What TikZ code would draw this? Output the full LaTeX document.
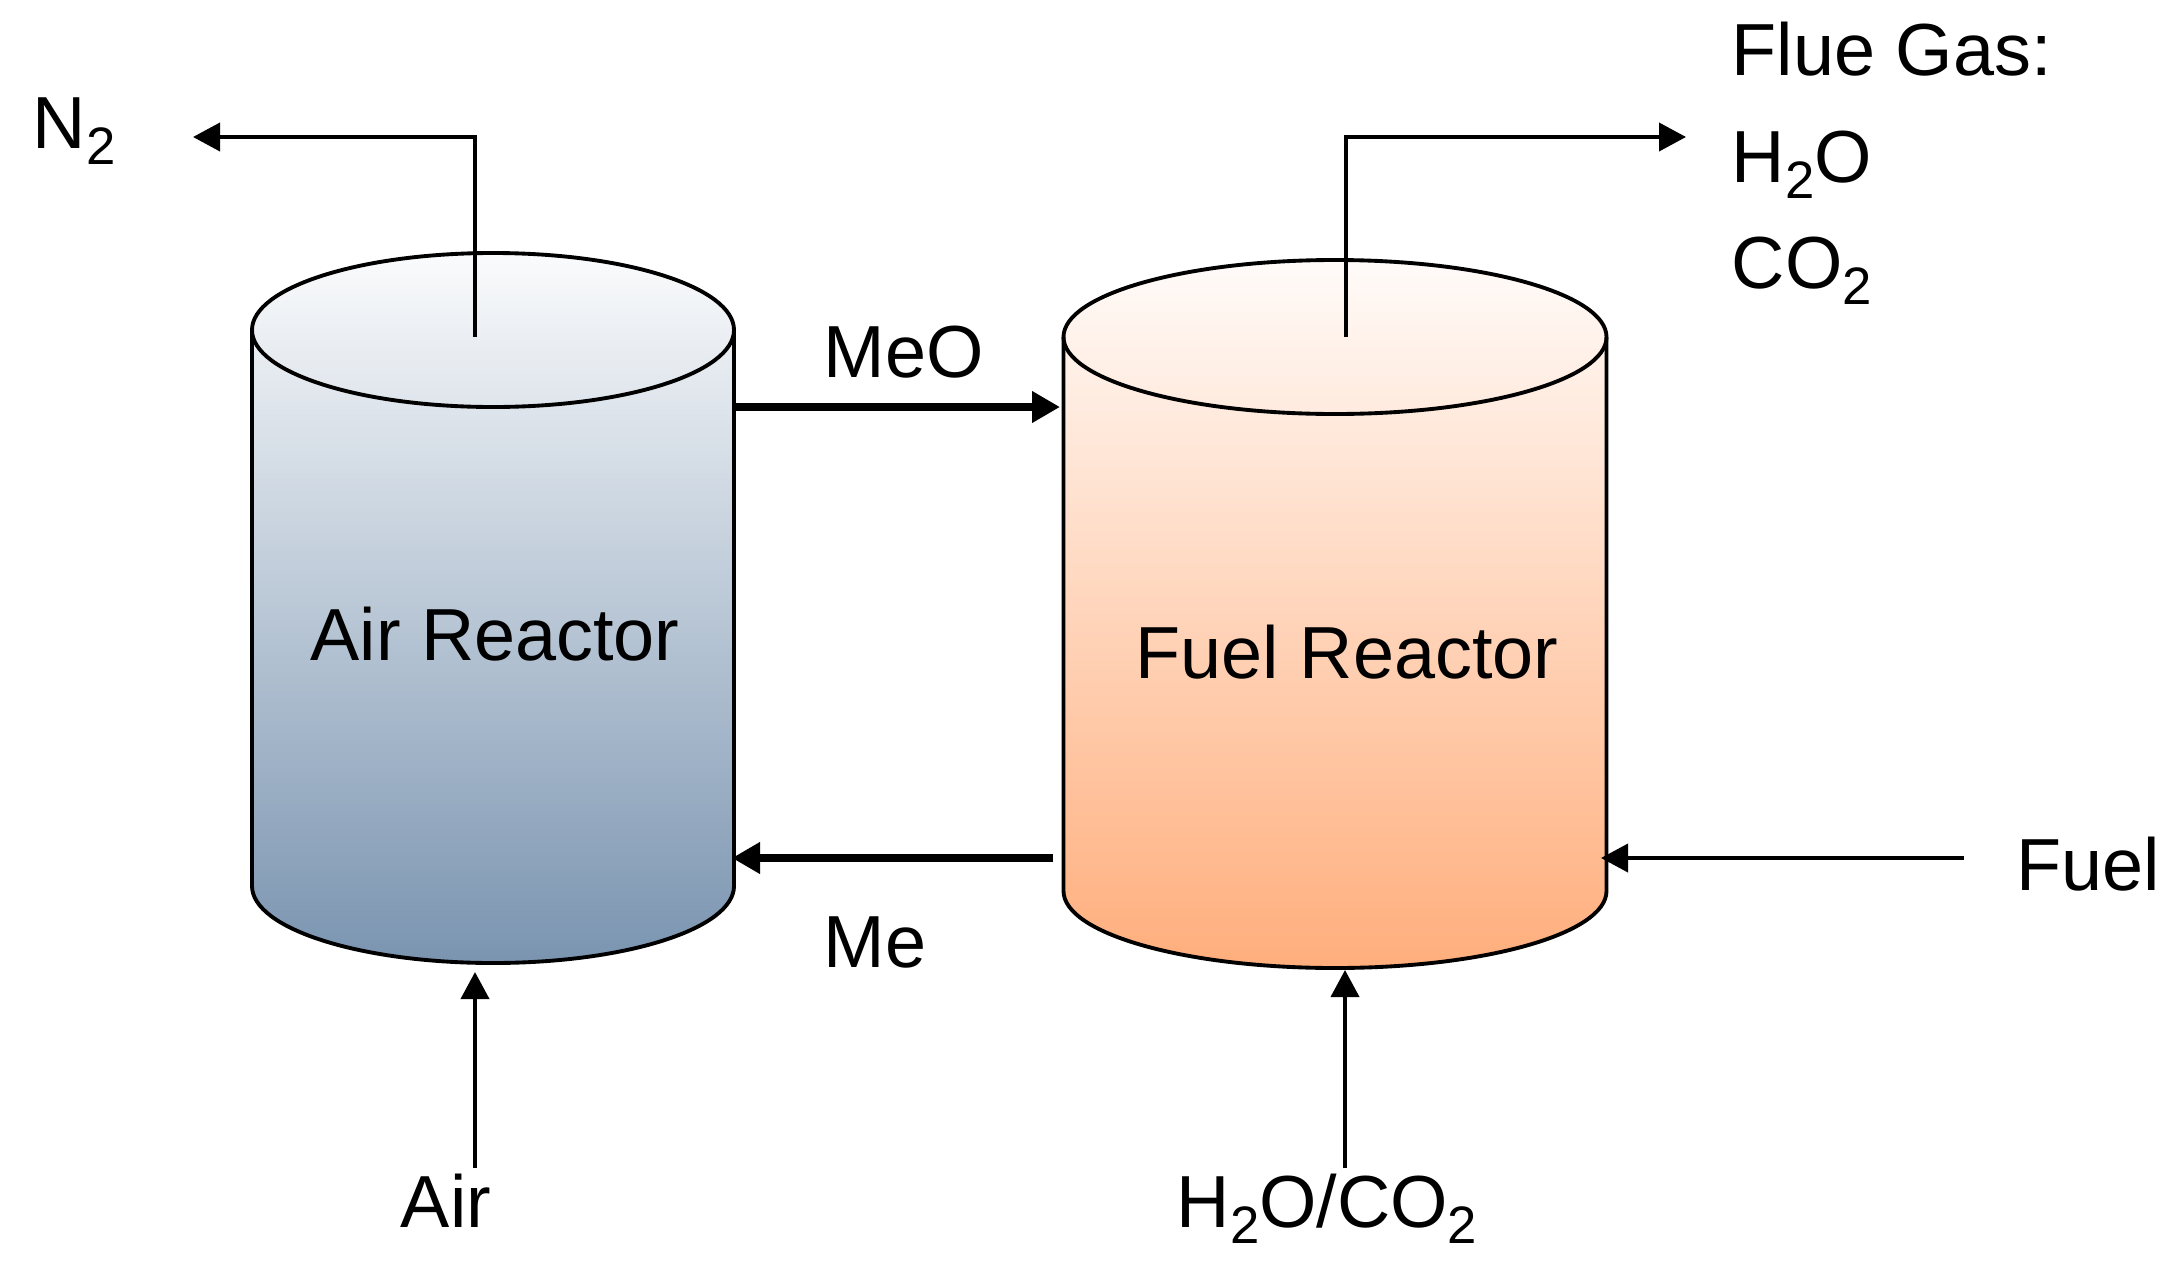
\documentclass[tikz,border=0pt]{standalone}
\usepackage{fontspec}
\setmainfont{Liberation Sans}
\usetikzlibrary{arrows.meta}

\definecolor{airtop}{HTML}{FAFBFC}
\definecolor{airbot}{HTML}{7A94B0}
\definecolor{fueltop}{HTML}{FFFBF9}
\definecolor{fuelbot}{HTML}{FFAE7C}

\newcommand{\chemsub}[1]{\raisebox{-0.22em}{\fontsize{15}{0}\selectfont #1}}

\tikzset{
	lbl/.style={font=\fontsize{21}{25}\selectfont, inner sep=0pt},
	wall/.style={line width=1.1pt},
	pipe/.style={line width=1.1pt, -{Triangle[length=0.27cm,width=0.28cm]}},
	flow/.style={line width=2.3pt, -{Triangle[length=0.28cm,width=0.30cm]}},
}

\begin{document}
\begin{tikzpicture}
		\useasboundingbox (0,0) rectangle (21.8,12.63);

		% air reactor
		\shade[top color=airtop, bottom color=airbot] (2.52,9.33) -- (2.52,3.77) arc[start angle=180, end angle=360, x radius=2.41, y radius=0.77] -- (7.34,9.33) arc[start angle=0, end angle=180, x radius=2.41, y radius=0.77] -- cycle;
		\draw[wall] (2.52,9.33) -- (2.52,3.77) arc[start angle=180, end angle=360, x radius=2.41, y radius=0.77] -- (7.34,9.33);
		\draw[wall] (4.93,9.33) ellipse[x radius=2.41, y radius=0.77];

		% fuel reactor
		\shade[top color=fueltop, bottom color=fuelbot] (10.635,9.26) -- (10.635,3.72) arc[start angle=180, end angle=360, x radius=2.715, y radius=0.77] -- (16.065,9.26) arc[start angle=0, end angle=180, x radius=2.715, y radius=0.77] -- cycle;
		\draw[wall] (10.635,9.26) -- (10.635,3.72) arc[start angle=180, end angle=360, x radius=2.715, y radius=0.77] -- (16.065,9.26);
		\draw[wall] (13.35,9.26) ellipse[x radius=2.715, y radius=0.77];

		% labels
		\node[lbl, anchor=base] (airlbl) at (4.95,6.03) {Air Reactor};
		\node[lbl, anchor=base] (fuellbl) at (13.47,5.85) {Fuel Reactor};
		\node[lbl, anchor=base west] (n2) at (0.32,11.15) {N\chemsub{2}};
		\node[lbl, anchor=base west] (flue) at (17.31,11.88) {Flue Gas:};
		\node[lbl, anchor=base west] (h2o) at (17.31,10.81) {H\chemsub{2}O};
		\node[lbl, anchor=base west] (co2) at (17.31,9.75) {CO\chemsub{2}};
		\node[lbl, anchor=base west] (meo) at (8.23,8.86) {MeO};
		\node[lbl, anchor=base west] (me) at (8.23,2.96) {Me};
		\node[lbl, anchor=base west] (fuel) at (20.16,3.73) {Fuel};
		\node[lbl, anchor=base] (air) at (4.46,0.36) {Air};
		\node[lbl, anchor=base] (steam) at (13.27,0.36) {H\chemsub{2}O/CO\chemsub{2}};

		% connection points
		\coordinate (n2out) at (4.75,9.26);
		\coordinate (n2end) at (1.93,11.26);
		\coordinate (flueout) at (13.46,9.26);
		\coordinate (flueend) at (16.86,11.26);
		\coordinate (meostart) at (7.34,8.56);
		\coordinate (meoend) at (10.60,8.56);
		\coordinate (mestart) at (10.53,4.05);
		\coordinate (meend) at (7.32,4.05);
		\coordinate (fuelstart) at (19.64,4.05);
		\coordinate (fuelend) at (16.01,4.05);
		\coordinate (airstart) at (4.75,0.95);
		\coordinate (airend) at (4.75,2.91);
		\coordinate (steamstart) at (13.45,0.95);
		\coordinate (steamend) at (13.45,2.93);

		% streams
		\draw[pipe] (n2out) |- (n2end);
		\draw[pipe] (flueout) |- (flueend);
		\draw[flow] (meostart) -- (meoend);
		\draw[flow] (mestart) -- (meend);
		\draw[pipe] (fuelstart) -- (fuelend);
		\draw[pipe] (airstart) -- (airend);
		\draw[pipe] (steamstart) -- (steamend);
	\end{tikzpicture}
\end{document}
